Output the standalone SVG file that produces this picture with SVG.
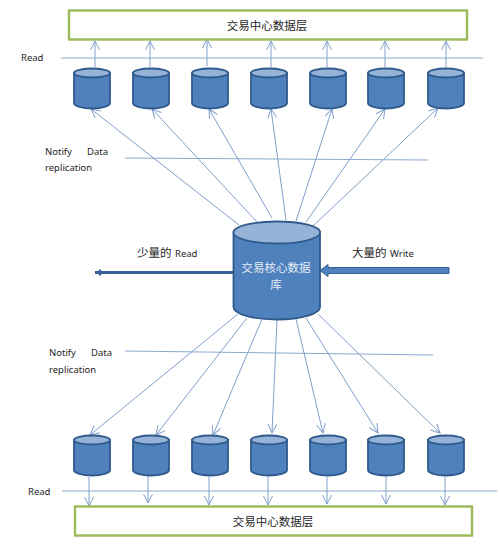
<svg xmlns="http://www.w3.org/2000/svg" width="500" height="551" viewBox="0 0 500 551">
<style>
.t{font-family:"Noto Sans",sans-serif;font-size:9.500px;fill:#262626}
.c{font-family:"Noto Sans CJK SC",sans-serif;font-size:11.500px;fill:#262626;text-anchor:middle}
.box{fill:#fff;stroke:#9bbb59;stroke-width:2.400}
.body{fill:#4f81bd;stroke:#2f5a8c;stroke-width:1.800}
.top{fill:#95b3d7;stroke:#2f5a8c;stroke-width:1.800}
.l{fill:none;stroke:#8aa9d0;stroke-width:1}
.a{fill:none;stroke:#7f9fca;stroke-width:1;marker-end:url(#o)}
</style>
<defs>
<marker id="o" markerUnits="userSpaceOnUse" markerWidth="12" markerHeight="12" refX="10" refY="5" orient="auto"><path d="M1 0.500L10 5L1 9.500" fill="none" stroke="#7f9fca" stroke-width="1"/></marker>
<marker id="hl" markerUnits="userSpaceOnUse" markerWidth="8" markerHeight="8" refX="6" refY="4" orient="auto"><path d="M0 0.500L6 4L0 7.500z" fill="#355f96"/></marker>
<g id="cy"><path class="body" d="M0 5V35C0 38 8 40.500 18 40.500S36 38 36 35V5z"/><ellipse class="top" cx="18" cy="5" rx="18" ry="4.500"/></g>
</defs>
<rect width="500" height="551" fill="#fff"/>
<g id="connectors">
<path class="l" d="M61 58H483M125 158L428 160M125 351L433 355M62 491H497"/>
<path class="a" d="M95 67V41"/><path class="a" d="M150 67V41"/><path class="a" d="M207 66V39"/><path class="a" d="M271 67V41"/><path class="a" d="M327 67V41"/><path class="a" d="M385 67V41"/><path class="a" d="M446 67V41"/>
<path class="a" d="M239 225L91 109"/><path class="a" d="M257 222L152 109"/><path class="a" d="M272 218L209 109"/><path class="a" d="M286 220L271 109"/><path class="a" d="M296 221L332 109"/><path class="a" d="M306 222L385 109"/><path class="a" d="M313 226L438 108"/>
<path class="a" d="M238 314L90 435"/><path class="a" d="M247 318L156 435"/><path class="a" d="M262 319L213 435"/><path class="a" d="M277 320L272 433"/><path class="a" d="M296 319L323 433"/><path class="a" d="M306 318L378 433"/><path class="a" d="M318 314L440 433"/>
<path class="a" d="M89 477V506"/><path class="a" d="M148 476V503"/><path class="a" d="M209 477V505"/><path class="a" d="M268 477V505"/><path class="a" d="M327 477V504"/><path class="a" d="M386 477V504"/><path class="a" d="M445 477V505"/>
<path d="M233 272.500H95" fill="none" stroke="#355f96" stroke-width="3.200" marker-end="url(#hl)"/>
<path d="M449 267.500H328V264.500L320 270.500L328 276.500V273.500H449z" fill="#4f81bd" stroke="#355f96" stroke-width="1"/>
</g>
<g id="top-layer"><rect class="box" x="69" y="10.500" width="398" height="29"/><text class="c" x="267" y="30">交易中心数据层</text></g>
<g id="bottom-layer"><rect class="box" x="75" y="506.500" width="397" height="29"/><text class="c" x="273" y="526">交易中心数据层</text></g>
<g id="top-cylinders">
<use href="#cy" x="74" y="68"/><use href="#cy" x="133" y="68"/><use href="#cy" x="192" y="68"/><use href="#cy" x="251" y="68"/><use href="#cy" x="310" y="68"/><use href="#cy" x="368" y="68"/><use href="#cy" x="428" y="68"/>
</g>
<g id="bottom-cylinders">
<use href="#cy" x="74" y="435"/><use href="#cy" x="133" y="435"/><use href="#cy" x="192" y="435"/><use href="#cy" x="251" y="435"/><use href="#cy" x="310" y="435"/><use href="#cy" x="368" y="435"/><use href="#cy" x="428" y="435"/>
</g>
<g id="core">
<path class="body" d="M233.500 232V307C233.500 314 253 319.500 277 319.500S320 314 320 307V232z"/>
<ellipse class="top" cx="276.800" cy="232.500" rx="43.300" ry="11"/>
<text class="c" x="276" y="272" style="fill:#e4ecf6">交易核心数据</text>
<text class="c" x="276" y="289" style="fill:#e4ecf6">库</text>
</g>
<g id="labels">
<text class="t" x="21" y="61">Read</text>
<text class="t" x="28" y="495">Read</text>
<text class="t" x="45" y="155">Notify</text><text class="t" x="87" y="155">Data</text>
<text class="t" x="45" y="171">replication</text>
<text class="t" x="49" y="356">Notify</text><text class="t" x="91" y="356">Data</text>
<text class="t" x="49" y="373">replication</text>
<text class="c" x="137" y="257" style="text-anchor:start">少量的</text><text class="t" x="175" y="257">Read</text>
<text class="c" x="352" y="257" style="text-anchor:start">大量的</text><text class="t" x="390" y="257">Write</text>
</g>
</svg>
